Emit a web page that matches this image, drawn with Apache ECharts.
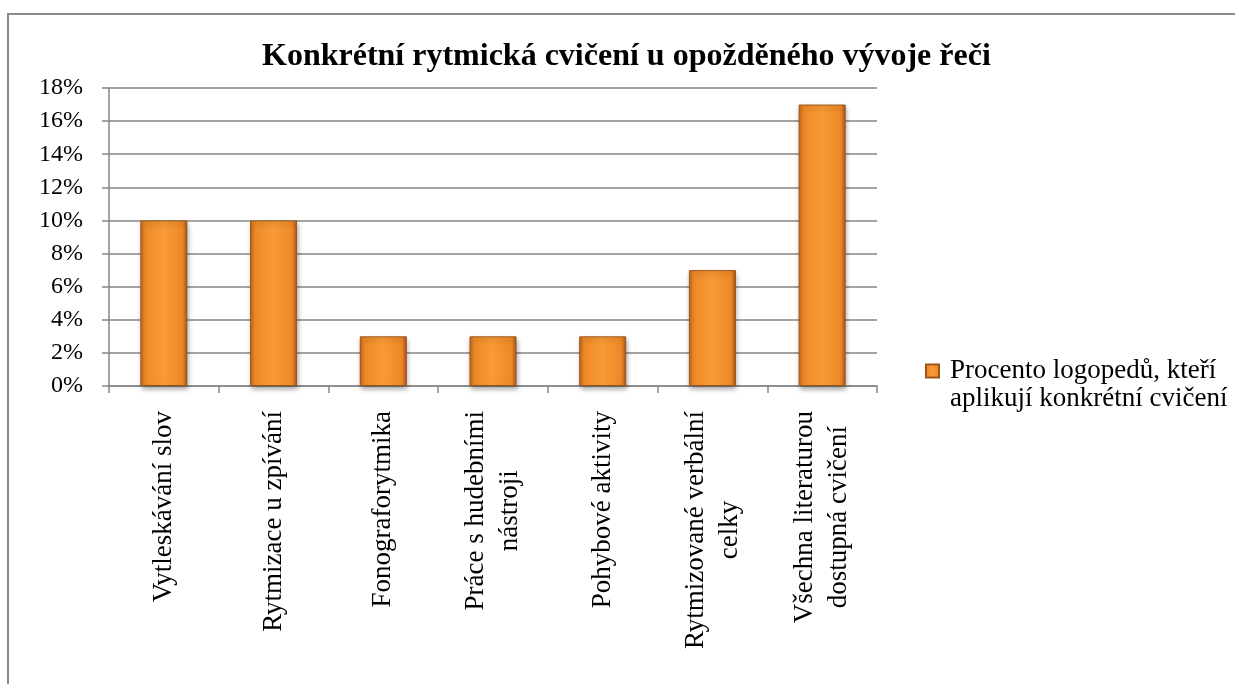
<!DOCTYPE html>
<html>
<head>
<meta charset="utf-8">
<script src="https://cdn.jsdelivr.net/npm/echarts@6/dist/echarts.min.js"></script>
<style>
  html, body { margin: 0; padding: 0; background: #fff; overflow: hidden; }
  #frame { position: absolute; left: 7px; top: 13px; right: -20px; bottom: -20px; border: 2px solid #8a8a8a; }
  #chart { position: absolute; left: 0; top: 0; width: 1235px; height: 684px; }
</style>
</head>
<body>
<div id="frame"></div>
<div id="chart"></div>
<script>
// Exercise categories (line breaks as wrapped under the axis)
const categories = [
  'Vytleskávání slov',
  'Rytmizace u zpívání',
  'Fonograforytmika',
  'Práce s hudebními\nnástroji',
  'Pohybové aktivity',
  'Rytmizované verbální\ncelky',
  'Všechna literaturou\ndostupná cvičení'
];
// Share of speech therapists using each exercise (%)
const percentValues = [10, 10, 3, 3, 3, 7, 17];
const seriesName = 'Procento logopedů, kteří aplikují konkrétní cvičení';
const legendLines = ['Procento logopedů, kteří', 'aplikují konkrétní cvičení'];
const chartTitle = 'Konkrétní rytmická cvičení u opožděného vývoje řeči';

const serif = "'Liberation Serif', 'Times New Roman', serif";

const chart = echarts.init(document.getElementById('chart'), null, { renderer: 'canvas' });

chart.setOption({
  animation: false,
  title: {
    text: chartTitle,
    left: 262,
    top: 41,
    padding: 0,
    textStyle: { fontFamily: serif, fontWeight: 'bold', fontSize: 32, color: '#000' }
  },
  legend: {
    data: [seriesName],
    left: 925,
    top: 329,
    padding: 0,
    orient: 'vertical',
    itemWidth: 13,
    itemHeight: 13,
    itemGap: 4,
    icon: 'rect',
    // blank first line keeps the marker level with the first text line
    formatter: () => '\n' + legendLines.join('\n'),
    textStyle: { fontFamily: serif, fontSize: 27, color: '#000', lineHeight: 28, padding: [0, 0, 0, 6] }
  },
  grid: { left: 109, right: 358, top: 88, bottom: 298, containLabel: false },
  xAxis: {
    type: 'category',
    data: categories,
    axisLine: { lineStyle: { color: '#868686', width: 1.5 } },
    axisTick: { show: true, length: 7, alignWithLabel: false, lineStyle: { color: '#868686', width: 1.5 } },
    axisLabel: {
      interval: 0,
      rotate: 90,
      margin: 25,
      color: '#000',
      fontFamily: serif,
      fontSize: 27,
      lineHeight: 34,
      formatter: (v) => v.split('\n').map(l => '{c|' + l + '}').join('\n'),
      rich: { c: { align: 'center', fontFamily: serif, fontSize: 27, lineHeight: 34, color: '#000' } }
    }
  },
  yAxis: {
    type: 'value',
    min: 0,
    max: 18,
    interval: 2,
    axisLine: { show: true, lineStyle: { color: '#868686', width: 1.5 } },
    axisTick: { show: true, length: 7, lineStyle: { color: '#868686', width: 1.5 } },
    splitLine: { lineStyle: { color: '#868686', width: 1.5 } },
    axisLabel: {
      margin: 26,
      color: '#000',
      fontFamily: serif,
      fontSize: 24,
      formatter: '{value}%'
    }
  },
  series: [{
    name: seriesName,
    type: 'bar',
    data: percentValues,
    barWidth: 47,
    itemStyle: {
      color: new echarts.graphic.LinearGradient(0, 0, 1, 0, [
        { offset: 0, color: '#C9691A' },
        { offset: 0.1, color: '#EE8A27' },
        { offset: 0.5, color: '#F89B36' },
        { offset: 0.9, color: '#EE8826' },
        { offset: 1, color: '#A9561A' }
      ]),
      borderColor: '#9C5418',
      borderWidth: 1,
      shadowColor: 'rgba(0,0,0,0.35)',
      shadowBlur: 5,
      shadowOffsetX: 1,
      shadowOffsetY: 3
    }
  }]
});
</script>
</body>
</html>
